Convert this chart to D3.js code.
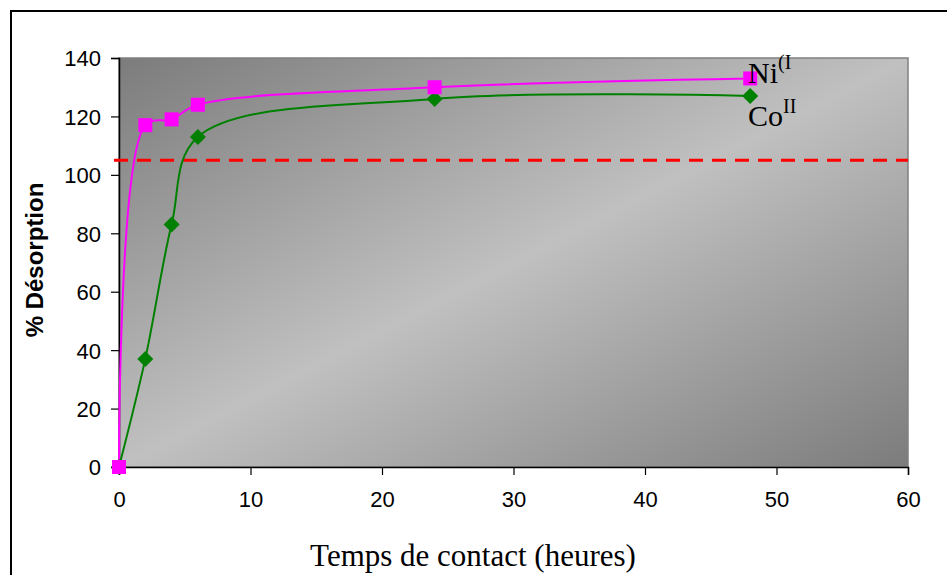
<!DOCTYPE html>
<html>
<head>
<meta charset="utf-8">
<script src="https://cdn.jsdelivr.net/npm/d3@7"></script>
<style>
  body { margin: 0; background: #fff; }
  svg { display: block; }
</style>
</head>
<body>
<div id="wrapper"></div>
<script>
// data
const hours = [0, 2, 4, 6, 24, 48]
const niValues = [0, 117, 119, 124, 130, 133]
const coValues = [0, 37, 83, 113, 126, 127]
const threshold = 105
const xTicks = [0, 10, 20, 30, 40, 50, 60]
const yTicks = [0, 20, 40, 60, 80, 100, 120, 140]

const dimensions = {
  width: 947,
  height: 575,
  margin: { top: 58, right: 39, bottom: 108, left: 119 },
}
dimensions.boundedWidth = dimensions.width - dimensions.margin.left - dimensions.margin.right
dimensions.boundedHeight = dimensions.height - dimensions.margin.top - dimensions.margin.bottom

const svg = d3.select("#wrapper")
  .append("svg")
  .attr("width", dimensions.width)
  .attr("height", dimensions.height)

// outer frame (runs off the page right and bottom)
svg.append("rect")
  .attr("x", 11).attr("y", 11)
  .attr("width", 1000).attr("height", 700)
  .attr("fill", "none")
  .attr("stroke", "#000")
  .attr("stroke-width", 2)

const defs = svg.append("defs")
const grad = defs.append("linearGradient")
  .attr("id", "bg")
  .attr("x1", 0).attr("y1", 0).attr("x2", 1).attr("y2", 1)
grad.append("stop").attr("offset", 0).attr("stop-color", "#7c7c7c")
grad.append("stop").attr("offset", 0.5).attr("stop-color", "#c0c0c0")
grad.append("stop").attr("offset", 1).attr("stop-color", "#7c7c7c")

const bounds = svg.append("g")
  .attr("transform", `translate(${dimensions.margin.left},${dimensions.margin.top})`)

const xScale = d3.scaleLinear().domain([0, 60]).range([0, dimensions.boundedWidth])
const yScale = d3.scaleLinear().domain([0, 140]).range([dimensions.boundedHeight, 0])

bounds.append("rect")
  .attr("width", dimensions.boundedWidth)
  .attr("height", dimensions.boundedHeight)
  .attr("fill", "url(#bg)")
  .attr("stroke", "#808080")
  .attr("stroke-width", 1.5)

// axes
const xAxis = bounds.append("g")
  .attr("transform", `translate(0,${dimensions.boundedHeight})`)
  .call(d3.axisBottom(xScale).tickValues(xTicks).tickSize(8).tickPadding(16))
const yAxis = bounds.append("g")
  .call(d3.axisLeft(yScale).tickValues(yTicks).tickSize(8).tickPadding(10))
;[xAxis, yAxis].forEach(a => {
  a.selectAll(".domain").attr("stroke", "#000").attr("stroke-width", 1.5)
  a.selectAll(".tick line").attr("stroke", "#000").attr("stroke-width", 1.2)
  a.selectAll("text")
    .attr("fill", "#000")
    .style("font-family", "Liberation Sans, Arial, sans-serif")
    .style("font-size", "22px")
})
yAxis.selectAll("text").attr("dy", "0.36em")

// threshold line
bounds.append("line")
  .attr("x1", -5).attr("x2", dimensions.boundedWidth)
  .attr("y1", yScale(threshold)).attr("y2", yScale(threshold))
  .attr("stroke", "#ff0000")
  .attr("stroke-width", 3)
  .attr("stroke-dasharray", "14,9")

const lineGen = (vals) => d3.line()
  .x((d, i) => xScale(hours[i]))
  .y(d => yScale(d))
  .curve(d3.curveCatmullRom.alpha(0.5))(vals)

bounds.append("path")
  .attr("d", lineGen(coValues))
  .attr("fill", "none")
  .attr("stroke", "#008000")
  .attr("stroke-width", 2)

bounds.append("path")
  .attr("d", lineGen(niValues))
  .attr("fill", "none")
  .attr("stroke", "#ff00ff")
  .attr("stroke-width", 2)

bounds.selectAll(".co")
  .data(coValues)
  .enter()
  .append("path")
  .attr("class", "co")
  .attr("d", "M0,-8L8,0L0,8L-8,0Z")
  .attr("transform", (d, i) => `translate(${xScale(hours[i])},${yScale(d)})`)
  .attr("fill", "#008000")

bounds.selectAll(".ni")
  .data(niValues)
  .enter()
  .append("rect")
  .attr("class", "ni")
  .attr("x", (d, i) => xScale(hours[i]) - 7)
  .attr("y", d => yScale(d) - 7)
  .attr("width", 14).attr("height", 14)
  .attr("fill", "#ff00ff")

// series labels
const serif = "Liberation Serif, Times New Roman, serif"
const niLabel = svg.append("text")
  .attr("x", 748).attr("y", 83)
  .style("font-family", serif).style("font-size", "30px")
niLabel.append("tspan").text("Ni")
niLabel.append("tspan").text("(I").attr("dy", -14).style("font-size", "20px")

const coLabel = svg.append("text")
  .attr("x", 748).attr("y", 126)
  .style("font-family", serif).style("font-size", "30px")
coLabel.append("tspan").text("Co")
coLabel.append("tspan").text("II").attr("dy", -13).style("font-size", "20px")

// axis titles
svg.append("text")
  .attr("x", 473).attr("y", 566)
  .attr("text-anchor", "middle")
  .style("font-family", serif).style("font-size", "31px")
  .text("Temps de contact (heures)")

svg.append("text")
  .attr("transform", "translate(43,260) rotate(-90)")
  .attr("text-anchor", "middle")
  .style("font-family", "Liberation Sans, Arial, sans-serif")
  .style("font-size", "24px")
  .style("font-weight", "bold")
  .text("% Désorption")
</script>
</body>
</html>
